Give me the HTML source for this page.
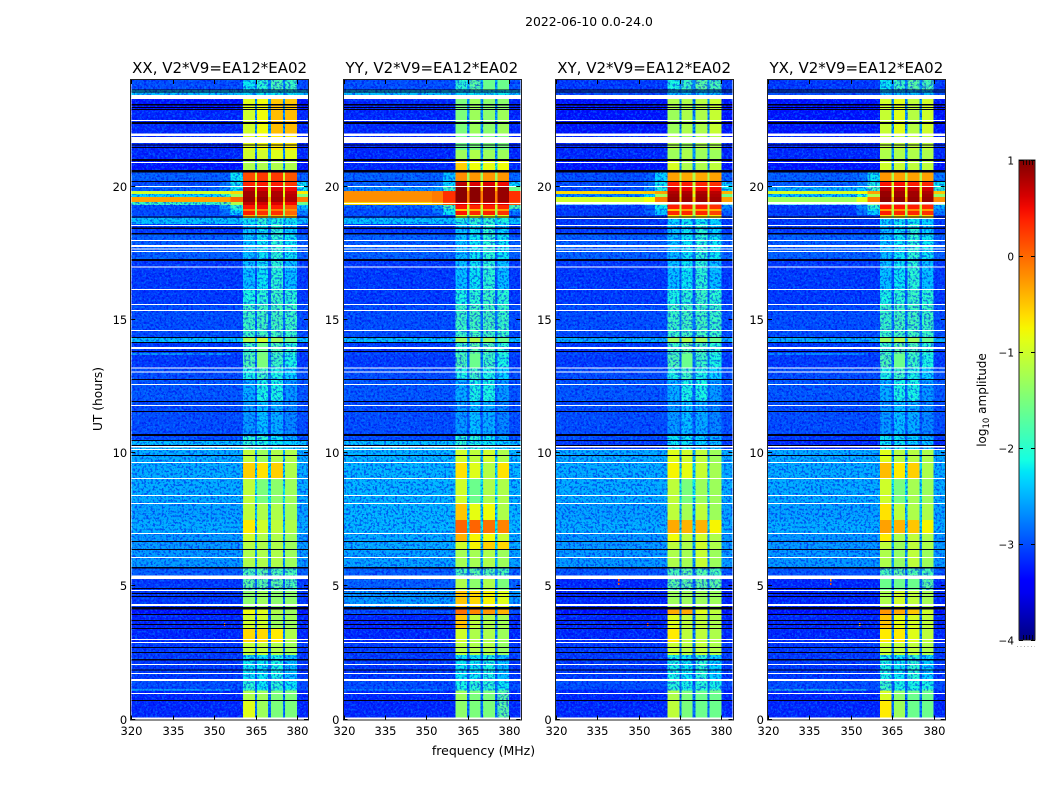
<!DOCTYPE html>
<html lang="en">
<head>
<meta charset="utf-8">
<title>2022-06-10 0.0-24.0</title>
<style>
html,body{margin:0;padding:0;background:#fff;}
svg{display:block;}
text{font-family:"DejaVu Sans","Liberation Sans",sans-serif;fill:#000;}
</style>
</head>
<body>
<svg id="figure" xmlns="http://www.w3.org/2000/svg" width="1050" height="800" viewBox="0 0 1050 800">
  <defs>
    <linearGradient id="jet-gradient" x1="0" y1="1" x2="0" y2="0"></linearGradient>
    <filter id="speckle-light" x="0" y="0" width="100%" height="100%" color-interpolation-filters="sRGB">
      <feTurbulence type="fractalNoise" baseFrequency="0.45" numOctaves="2" seed="7"/>
      <feColorMatrix type="matrix" values="0 0 0 0 0  0 0 0 0 0.66  0 0 0 0 1  6 0 0 0 -3.0"/>
    </filter>
    <filter id="speckle-dark" x="0" y="0" width="100%" height="100%" color-interpolation-filters="sRGB">
      <feTurbulence type="fractalNoise" baseFrequency="0.45" numOctaves="2" seed="23"/>
      <feColorMatrix type="matrix" values="0 0 0 0 0  0 0 0 0 0  0 0 0 0 0.9  6 0 0 0 -2.9"/>
    </filter>
  </defs>
  <text x="589" y="26" font-size="12.4" text-anchor="middle">2022-06-10 0.0-24.0</text>
  <text x="483.5" y="755" font-size="12.5" text-anchor="middle">frequency (MHz)</text>
  <text transform="translate(102,399) rotate(-90)" font-size="12.2" text-anchor="middle">UT (hours)</text>
  <text transform="translate(986,400) rotate(-90)" font-size="12" text-anchor="middle">log<tspan font-size="8.5" dy="3">10</tspan><tspan dy="-3"> amplitude</tspan></text>
  <g id="panels"></g>
  <g id="colorbar"></g>
</svg>
<script>
// ---------- categories / axes ----------
const panelTitles = ["XX, V2*V9=EA12*EA02", "YY, V2*V9=EA12*EA02", "XY, V2*V9=EA12*EA02", "YX, V2*V9=EA12*EA02"];
const freqTicks = [320, 335, 350, 365, 380];
const utTicks = [0, 5, 10, 15, 20];
const colorbarTicks = [-4, -3, -2, -1, 0, 1];
// frequency channel groups (MHz): bg, shoulder1, shoulder2, band1, gap, band2, gap, band3, gap, band4, tail
const channelEdges = [320, 352, 356, 360.5, 364.8, 365.6, 369.6, 370.6, 374.9, 375.7, 380, 384];
// time blocks (UT hours), top to bottom
const rowEdges = [24,23.62,23.43,22.91,21.97,21.37,21.0,20.54,20.21,19.98,19.83,19.72,19.61,19.42,19.31,19.16,19.08,18.93,18.82,18.59,18.22,17.24,16.12,15.55,14.35,14.17,13.74,13.70,13.19,12.74,11.91,10.68,10.49,10.15,9.66,9.06,8.12,7.49,7.0,6.70,6.40,5.72,5.38,4.86,4.22,3.96,3.43,2.91,2.42,1.48,1.12,1.08,0.73,0];
// flagged (no-data) time ranges, hours
const whiteFlags = [[23.43,23.28],[22.50,22.46],[22.0,21.89],[21.86,21.63],[20.92,20.88],[20.02,19.98],[18.56,18.52],[17.99,17.95],[17.81,17.73],[17.67,17.64],[17.58,17.54],[17.01,16.98],[16.15,16.12],[15.59,15.55],[15.37,15.33],[14.62,14.58],[13.98,13.90],[13.21,13.17],[13.06,13.02],[12.59,12.55],[11.80,11.76],[10.26,10.21],[10.15,10.11],[9.66,9.62],[9.06,9.02],[8.42,8.39],[8.12,8.09],[7.00,6.96],[6.10,6.06],[5.40,5.27],[4.86,4.82],[4.33,4.26],[3.02,2.98],[2.91,2.87],[2.08,2.05],[1.74,1.71],[1.52,1.44],[1.0,0.96],[0.08,0]];
const yyWhiteFlags = [[19.38,19.34]];
const crossWhiteFlags = [[19.43,19.33],[18.82,18.78]];
const panelWhiteFlags = [[], yyWhiteFlags, crossWhiteFlags, crossWhiteFlags];
const blackFlags = [[23.64,23.60],[23.56,23.53],[23.1,23.04],[22.99,22.96],[22.92,22.89],[22.42,22.34],[21.58,21.54],[21.48,21.44],[21.03,20.96],[20.62,20.53],[20.21,20.17],[18.87,18.84],[18.46,18.41],[18.26,18.2],[17.28,17.20],[14.35,14.32],[14.17,14.13],[13.83,13.79],[12.78,12.74],[11.95,11.91],[11.58,11.54],[10.71,10.64],[10.49,10.45],[10.30,10.26],[9.93,9.89],[6.70,6.66],[6.40,6.36],[5.72,5.67],[4.93,4.90],[4.75,4.71],[4.63,4.60],[4.22,4.13],[3.96,3.92],[3.73,3.70],[3.58,3.55],[3.43,3.40],[2.72,2.68],[2.53,2.50],[2.27,2.21],[1.88,1.84],[0.73,0.69]];
// isolated interference spikes: panel index, frequency MHz, start hour, end hour, log10 amplitude
const rfiSpikes = [[2,342.5,5.27,5.18,0.1],[2,342.5,5.13,5.05,0.1],[3,342.5,5.27,5.18,-0.2],[3,342.5,5.13,5.05,0.1],[0,353.5,3.62,3.5,-0.1],[2,353,3.62,3.5,0.1],[3,353,3.62,3.5,-0.4]];

// ---------- log10 amplitude per time block ----------
// each row: bg, band1, band2, band3, band4, gap, [shoulder1, shoulder2, tail]
const xxRows = [
[-3.0,-2.2,-2.0,-1.8,-1.9,-2.7],[-2.4,-2.3,-2.2,-2.2,-2.2,-2.4],[-3.3,-.9,-.8,-.5,-.5,-2.6],[-3.2,-1.0,-.8,-.45,-.45,-2.6],
[-3.2,-.9,-.8,-.7,-.7,-2.6],[-3.2,-1.0,-1.0,-.9,-.9,-2.6],[-3.3,-1.2,-1.2,-1.2,-1.2,-2.5],[-2.9,.15,.25,.25,.1,-1.0,-2.9,-2.2,-2.9],
[-3.0,.35,.4,.4,.25,-1.1,-2.8,-2.2,-2.2],[-2.9,.7,.6,.6,.5,-1.0,-2.7,-2.2,-2.2],[-1.0,.85,.8,.8,.7,-.8,-.9,-.6,-.7],[-2.3,.85,.8,.8,.75,-1.0,-2.0,-1.3,-1.5],
[-.3,.9,.9,.85,.8,-.4,-.3,0,-.1],[-1.9,.7,.65,.6,.5,-.9,-1.7,-1.2,-1.6],[-3.0,.45,.5,.4,.1,-1.2,-2.6,-2.0,-2.4],[-3,-.1,-.1,-.1,-.2,-1.3,-2.8,-2.2,-2.6],
[-3,.4,.3,.3,0,-1.3,-2.8,-2.3,-2.7],[-3,-.4,-.4,-.4,-.4,-1.6],[-2.4,-2.2,-2.0,-2.1,-2.2,-2.4],[-3.1,-2.4,-2.2,-2.0,-2.3,-2.9],
[-2.9,-2.4,-2.2,-2.0,-2.2,-2.8],[-3.1,-2.4,-2.2,-2.0,-2.4,-3],[-3.1,-2.1,-2.0,-1.9,-2.0,-2.9],[-3.0,-1.9,-1.85,-1.85,-1.9,-2.8],
[-2.4,-1.2,-1.0,-1.3,-1.6,-2.4],[-3.1,-1.9,-1.6,-1.8,-2.0,-2.8],[-2.2,-1.8,-1.5,-1.9,-2.0,-2.7,-2.2,-3,-3],[-3.1,-1.8,-1.5,-1.9,-2.1,-2.8],
[-3,-2.1,-1.9,-2.1,-2.3,-2.8],[-2.95,-2.5,-2.1,-2.1,-2.6,-2.9],[-3,-2.6,-2.4,-2.5,-2.7,-2.95],[-3,-2.0,-2.0,-2.2,-2.5,-2.9],
[-2.4,-2.0,-2.1,-2.2,-2.3,-2.4],[-2.5,-1.1,-1.3,-1.2,-1.2,-2.5],[-2.5,-.55,-.65,-.55,-1.2,-2.3],[-2.5,-1.1,-1.5,-1.4,-1.3,-2.2],
[-2.55,-1.1,-1.2,-1.2,-1.3,-2.4],[-2.5,-.7,-1.0,-1.1,-1.2,-2.4],[-2.6,-1.0,-1.2,-1.2,-1.3,-2.5],[-2.6,-1.15,-1.2,-1.2,-1.3,-2.5],
[-2.6,-1.2,-1.2,-1.2,-1.3,-2.6],[-2.9,-1.8,-1.7,-1.8,-1.8,-2.8],[-3.1,-1.7,-1.7,-1.7,-1.8,-2.9],[-3.1,-1.4,-1.3,-1.4,-1.4,-2.9],
[-3.3,-.8,-.9,-1.2,-1.3,-2.8],[-3.2,-1.0,-1.0,-1.3,-1.3,-2.8],[-3.2,-.6,-.6,-.7,-1.2,-2.7],[-3.1,-1.1,-1.1,-1.2,-1.3,-2.8],
[-3.1,-2.2,-2.2,-2.1,-2.4,-2.9],[-3.0,-2.0,-2.2,-2.0,-2.2,-2.9],[-2.2,-1.9,-2.1,-2.0,-1.9,-2.8,-2.2,-3,-3],[-3.2,-1.2,-1.3,-1.5,-1.5,-2.8],
[-3.2,-.9,-1.3,-1.5,-1.5,-2.8]];
const yyRows = [
[-3,-2.0,-1.7,-1.6,-1.6,-2.5],[-2.4,-2.3,-2.2,-2.2,-2.2,-2.4],[-3.2,-1.5,-1.3,-1.4,-1.4,-2.6],[-3.2,-1.5,-1.3,-1.4,-1.3,-2.6],
[-3.2,-1.6,-1.5,-1.5,-1.5,-2.6],[-3.2,-1.3,-1.2,-1.3,-1.3,-2.6],[-3.2,-.55,-.8,-.85,-.8,-2.0],[-2.9,-.2,-.25,-.25,-.25,-1.3,-2.9,-2.4,-2.9],
[-2.9,.75,.6,.6,.5,-.9,-2.8,-2.3,-2.3],[-2.7,.95,.95,.9,.9,-.5,-2.6,-1.9,-1.6],[-.2,.95,.95,.9,.9,-.1,-.1,.3,.3],[-.2,.95,.95,.9,.9,-.1,-.1,.3,.3],
[-.2,.95,.95,.9,.9,-.1,-.1,.3,.3],[-.6,.6,.6,.6,.6,-.3,-.4,.1,.1],[-2.9,.45,.35,.4,.35,-1.0,-2.6,-1.8,-1.8],[-3,-.5,-.4,-.3,-.3,-1.2,-2.8,-2.2,-2.5],
[-3,.45,.35,.4,.3,-1.2,-2.8,-2.2,-2.8],[-3,-.9,-.9,-.9,-.9,-1.8],[-2.4,-2.1,-2.0,-2.0,-2.1,-2.4],[-3.1,-2.4,-2.2,-2.0,-2.3,-2.9],
[-2.9,-2.4,-2.2,-2.0,-2.2,-2.8],[-3.1,-2.4,-2.2,-2.0,-2.4,-3],[-3.1,-2.1,-2.0,-1.9,-2.0,-2.9],[-3.0,-1.9,-1.85,-1.85,-1.9,-2.8],
[-2.4,-1.3,-1.2,-1.3,-1.6,-2.4],[-3.1,-1.9,-1.7,-1.8,-2.0,-2.8],[-2.9,-1.8,-1.6,-1.9,-2.0,-2.7],[-3.1,-1.8,-1.6,-1.9,-2.1,-2.8],
[-3,-2.1,-1.9,-2.1,-2.3,-2.8],[-2.95,-2.5,-2.1,-2.1,-2.6,-2.9],[-3,-2.6,-2.4,-2.5,-2.7,-2.95],[-3,-2.0,-2.0,-2.2,-2.5,-2.9],
[-2.4,-2.0,-2.1,-2.2,-2.3,-2.4],[-2.45,-1.0,-1.1,-1.0,-1.2,-2.4],[-2.45,-.65,-.9,-1.15,-.65,-2.3],[-2.45,-1.0,-1.6,-1.2,-1.2,-2.2],
[-2.45,-.5,-.85,-.8,-1.2,-2.3],[-2.45,.02,.02,-.05,-.15,-2.2],[-2.5,-.4,-.75,-.8,-1.05,-2.3],[-2.5,-1.0,-.75,-.55,-.6,-2.3],
[-2.55,-1.25,-1.25,-1.2,-1.3,-2.5],[-2.9,-1.8,-1.7,-1.75,-1.8,-2.8],[-2.9,-1.2,-1.4,-1.2,-1.5,-2.7],[-2.6,-.5,-.6,-.75,-.9,-2.5],
[-3.0,-.05,-.15,-.25,-.4,-2.6],[-3.2,-.5,-1.1,-1.2,-1.25,-2.7],[-3.2,-1.0,-1.2,-1.2,-1.3,-2.7],[-3.1,-1.15,-1.2,-1.2,-1.35,-2.8],
[-3.1,-2.2,-2.2,-2.1,-2.4,-2.9],[-3.0,-2.1,-2.0,-2.0,-2.2,-2.9],[-2.5,-2.0,-2.0,-2.0,-1.9,-2.8,-2.5,-3,-3],[-3.2,-1.3,-1.5,-1.5,-1.7,-2.8],
[-3.2,-1.4,-1.5,-1.5,-1.7,-2.8]];
const xyRows = [
[-3.1,-2.1,-1.9,-1.7,-1.8,-2.7],[-3.0,-2.4,-2.4,-2.4,-2.4,-2.8],[-3.3,-1.2,-1.2,-1.15,-1.05,-2.6],[-3.3,-1.3,-1.2,-1.2,-1.05,-2.6],
[-3.2,-1.2,-1.3,-1.2,-1.2,-2.6],[-3.2,-1.3,-1.2,-1.3,-1.3,-2.6],[-3.3,-.95,-1.2,-1.2,-1.1,-2.6],[-3,-.3,-.35,-.35,-.3,-1.2,-2.9,-2.3,-2.9],
[-3,.4,.4,.35,.3,-1.1,-2.8,-2.2,-2.3],[-3,.6,.55,.5,.5,-1,-2.7,-2.1,-2.2],[-.6,.8,.8,.8,.75,-.7,-.5,-.3,-.4],[-2.7,.85,.85,.85,.8,-1,-2.3,-1.3,-1.6],
[-1,.9,.9,.9,.85,-.5,-.8,-.1,-.3],[-2.4,.45,.4,.4,.4,-1,-2.1,-1.4,-1.7],[-3.1,.4,.4,.4,.3,-1.1,-2.9,-2.2,-2.7],[-3.1,-.5,-.3,-.3,-.4,-1.2,-2.9,-2.3,-2.8],
[-3.1,.35,.35,.35,.2,-1.2,-2.9,-2.4,-2.9],[-3.1,-.7,-.7,-.7,-.7,-1.5],[-3.1,-2.3,-2.2,-2.2,-2.3,-2.9],[-3.1,-2.4,-2.2,-2.0,-2.3,-2.9],
[-2.9,-2.4,-2.2,-2.0,-2.2,-2.8],[-3.1,-2.4,-2.2,-2.0,-2.4,-3],[-3.1,-2.1,-2.0,-1.9,-2.0,-2.9],[-3.0,-1.9,-1.85,-1.85,-1.9,-2.8],
[-2.5,-1.3,-1.2,-1.3,-1.6,-2.5],[-3.1,-1.9,-1.7,-1.8,-2.0,-2.8],[-2.9,-1.8,-1.6,-1.9,-2.0,-2.7],[-3.1,-1.8,-1.6,-1.9,-2.1,-2.8],
[-3,-2.1,-1.9,-2.1,-2.3,-2.8],[-2.95,-2.5,-2.1,-2.1,-2.6,-2.9],[-3,-2.6,-2.4,-2.5,-2.7,-2.95],[-3,-2.2,-2.2,-2.3,-2.5,-2.9],
[-3.1,-2.2,-2.2,-2.3,-2.4,-2.9],[-2.5,-.9,-1.0,-1.1,-1.3,-2.5],[-2.5,-.75,-.85,-1.05,-1.25,-2.3],[-2.5,-1.1,-1.5,-1.3,-1.3,-2.2],
[-2.55,-1.1,-1.25,-1.1,-1.3,-2.4],[-2.5,-.35,-.4,-.4,-.75,-2.3],[-2.6,-.8,-1.1,-1.0,-1.2,-2.5],[-2.6,-1.1,-1.2,-1.0,-1.2,-2.5],
[-2.6,-1.2,-1.25,-1.05,-1.3,-2.6],[-2.95,-1.8,-1.7,-1.75,-1.8,-2.8],[-3.2,-1.7,-1.7,-1.65,-1.7,-2.9],[-3.2,-1.3,-1.3,-1.3,-1.3,-2.9],
[-3.3,-.35,-.35,-.9,-1.1,-2.8],[-3.2,-.9,-1.1,-1.1,-1.2,-2.8],[-3.2,-.7,-1.1,-1.1,-1.2,-2.7],[-3.1,-1.05,-1.15,-1.1,-1.2,-2.8],
[-3.1,-2.1,-2.2,-2.0,-2.3,-2.9],[-3.0,-2.0,-2.1,-2.0,-2.1,-2.9],[-3.2,-1.9,-2.0,-2.0,-1.7,-2.8],[-3.2,-1.2,-1.5,-1.6,-1.6,-2.8],
[-3.2,-1.1,-1.5,-1.6,-1.6,-2.8]];
const yxRows = [
[-3.1,-2.2,-1.9,-1.7,-1.8,-2.7],[-3.0,-2.4,-2.4,-2.4,-2.4,-2.8],[-3.3,-1.0,-.9,-1.1,-1.0,-2.6],[-3.3,-1.05,-.9,-1.15,-1.0,-2.6],
[-3.2,-1.1,-1.1,-1.1,-1.1,-2.6],[-3.2,-1.2,-1.2,-1.2,-1.2,-2.6],[-3.3,-1.0,-1.05,-1.1,-1.1,-2.6],[-2.9,-.25,-.3,-.3,-.3,-1.2,-2.8,-2.2,-2.8],
[-2.9,.45,.45,.4,.35,-1.0,-2.7,-2.1,-2.2],[-2.5,.75,.7,.7,.65,-.9,-2.3,-1.9,-2.0],[-.95,.9,.85,.85,.8,-.7,-.8,-.3,-.5],[-2.4,.9,.85,.85,.85,-.9,-2.1,-1.2,-1.4],
[-1.3,.95,.95,.9,.9,-.4,-.9,-.1,-.2],[-2.2,.45,.4,.4,.45,-1,-1.9,-1.3,-1.6],[-3.1,.45,.45,.4,.35,-1.1,-2.7,-2.0,-2.5],[-3.1,-.3,-.2,-.2,-.3,-1.2,-2.8,-2.2,-2.7],
[-3.1,.4,.35,.35,.3,-1.2,-2.8,-2.3,-2.8],[-3.1,-.6,-.6,-.6,-.6,-1.5],[-3.1,-2.3,-2.2,-2.2,-2.3,-2.9],[-3.1,-2.4,-2.2,-2.0,-2.3,-2.9],
[-2.9,-2.4,-2.2,-2.0,-2.2,-2.8],[-3.1,-2.4,-2.2,-2.0,-2.4,-3],[-3.1,-2.1,-2.0,-1.9,-2.0,-2.9],[-3.0,-1.9,-1.85,-1.85,-1.9,-2.8],
[-2.5,-1.3,-1.2,-1.3,-1.6,-2.5],[-3.1,-1.9,-1.7,-1.8,-2.0,-2.8],[-2.3,-1.8,-1.6,-1.9,-2.0,-2.7,-2.3,-3,-3],[-3.1,-1.8,-1.6,-1.9,-2.1,-2.8],
[-3,-2.1,-1.9,-2.1,-2.3,-2.8],[-2.95,-2.5,-2.1,-2.1,-2.6,-2.9],[-3,-2.6,-2.4,-2.5,-2.7,-2.95],[-3.1,-2.2,-2.2,-2.3,-2.5,-2.9],
[-3.2,-2.2,-2.2,-2.3,-2.4,-2.9],[-2.5,-.9,-1.15,-1.15,-1.2,-2.5],[-2.5,-.45,-.7,-.55,-1.2,-2.3],[-2.5,-1.0,-1.5,-1.25,-1.3,-2.2],
[-2.55,-.65,-1.1,-1.2,-1.2,-2.4],[-2.5,-.3,-.4,-.5,-.75,-2.3],[-2.6,-.7,-1.2,-1.1,-1.2,-2.5],[-2.6,-1.1,-1.3,-1.1,-1.2,-2.5],
[-2.6,-1.2,-1.35,-1.1,-1.3,-2.6],[-2.95,-1.8,-1.7,-1.75,-1.8,-2.8],[-3.2,-1.6,-1.6,-1.6,-1.7,-2.9],[-3.2,-1.2,-1.0,-1.1,-1.25,-2.9],
[-3.3,-.25,-.35,-.5,-1.0,-2.8],[-3.2,-.5,-.85,-.95,-1.1,-2.8],[-3.2,-.7,-.7,-.9,-1.1,-2.7],[-3.1,-1.05,-1.1,-1.1,-1.2,-2.8],
[-3.1,-2.1,-2.2,-2.0,-2.3,-2.9],[-3.0,-1.9,-2.1,-2.1,-2.1,-2.9],[-2.0,-1.9,-2.1,-2.1,-1.8,-2.8,-2.0,-3,-3],[-3.2,-.95,-1.4,-1.6,-1.6,-2.8],
[-3.2,-.7,-1.3,-1.6,-1.6,-2.8]];
const panelRows = [xxRows, yyRows, xyRows, yxRows];

// ---------- scales ----------
const SVGNS = "http://www.w3.org/2000/svg";
const plotTop = 80, plotBottom = 719.5, plotWidth = 176.75;
const panelLeft = i => 131.25 + i * 212.25;
const freqToX = (f, left) => left + (f - 320) / 64 * plotWidth;
const hourToY = h => plotBottom - (h / 24) * (plotBottom - plotTop);
const cbarTop = 160, cbarBottom = 640, cbarLeft = 1019, cbarRight = 1035;
const ampToCbarY = v => cbarBottom - (v + 4) / 5 * (cbarBottom - cbarTop);

function ramp(t, pts) {
  for (let i = 1; i < pts.length; i++) {
    if (t <= pts[i][0]) {
      const a = pts[i - 1], b = pts[i];
      return a[1] + (b[1] - a[1]) * (t - a[0]) / (b[0] - a[0]);
    }
  }
  return pts[pts.length - 1][1];
}
function jet(v) {
  const t = Math.min(1, Math.max(0, (v + 4) / 5));
  const r = ramp(t, [[0,0],[.35,0],[.66,1],[.89,1],[1,.5]]);
  const g = ramp(t, [[0,0],[.125,0],[.375,1],[.64,1],[.91,0],[1,0]]);
  const b = ramp(t, [[0,.5],[.11,1],[.34,1],[.65,0],[1,0]]);
  return "rgb(" + Math.round(r * 255) + "," + Math.round(g * 255) + "," + Math.round(b * 255) + ")";
}
function mk(tag, attrs, parent) {
  const el = document.createElementNS(SVGNS, tag);
  for (const k in attrs) el.setAttribute(k, attrs[k]);
  parent.appendChild(el);
  return el;
}

// ---------- panels ----------
const panelsGroup = document.getElementById("panels");
const defs = document.querySelector("defs");
panelTitles.forEach(function (title, p) {
  const left = panelLeft(p), right = left + plotWidth, height = plotBottom - plotTop;
  const rows = panelRows[p];
  const g = mk("g", {}, panelsGroup);
  
  

  const t = mk("text", { x: left + plotWidth / 2, y: 73, "font-size": 15, "text-anchor": "middle" }, g);
  
  
  t.textContent = title;

  const clip = mk("clipPath", { id: "quiet-clip-" + p }, defs);
  
  

  const cells = mk("g", { "shape-rendering": "crispEdges" }, g);
  
  
  rows.forEach(function (row, r) {
    const bg = row[0], gap = row[5];
    const sh1 = row.length > 6 ? row[6] : bg, sh2 = row.length > 7 ? row[7] : bg, tail = row.length > 8 ? row[8] : bg;
    const colValues = [bg, sh1, sh2, row[1], gap, row[2], gap, row[3], gap, row[4], tail];
    const y0 = hourToY(rowEdges[r]), y1 = hourToY(rowEdges[r + 1]);
    colValues.forEach(function (v, c) {
      const x0 = freqToX(channelEdges[c], left), x1 = freqToX(channelEdges[c + 1], left);
      const cell = mk("rect", { x: x0, y: y0, width: x1 - x0, height: y1 - y0, fill: jet(v) }, cells);
      
      
      if (v < -1.6) {
        const cr = mk("rect", { x: x0, y: y0, width: x1 - x0, height: y1 - y0 }, clip);
        
        
      }
    });
  });

  const noise = mk("g", { "clip-path": "url(#quiet-clip-" + p + ")" }, g);
  
  
  const n1 = mk("rect", { x: left, y: plotTop, width: plotWidth, height: height, filter: "url(#speckle-dark)", opacity: .55 }, noise);
  
  
  const n2 = mk("rect", { x: left, y: plotTop, width: plotWidth, height: height, filter: "url(#speckle-light)", opacity: .38 }, noise);
  
  

  const spikes = mk("g", { "shape-rendering": "crispEdges" }, g);
  
  
  rfiSpikes.filter(function (s) { return s[0] === p; }).forEach(function (s) {
    const y = hourToY(s[2]);
    const sp = mk("rect", { x: freqToX(s[1], left), y: y, width: 1.4, height: Math.max(1, hourToY(s[3]) - y), fill: jet(s[4]) }, spikes);
    
    
  });

  const flags = mk("g", { "shape-rendering": "crispEdges" }, g);
  
  
  blackFlags.forEach(function (f) {
    const y = hourToY(f[0]);
    const b = mk("rect", { x: left, y: y, width: plotWidth, height: Math.max(1, hourToY(f[1]) - y), fill: "#000014" }, flags);
    
    
  });
  whiteFlags.concat(panelWhiteFlags[p]).forEach(function (f) {
    const y = hourToY(f[0]);
    const w = mk("rect", { x: left, y: y, width: plotWidth, height: Math.max(1, hourToY(f[1]) - y), fill: "#fff" }, flags);
    
    
  });

  const frame = mk("rect", { x: Math.round(left) - .5, y: plotTop - .5, width: Math.round(plotWidth) + 1, height: height + 1, fill: "none", stroke: "#222", "stroke-width": 1 }, g);
  
  

  freqTicks.forEach(function (f) {
    const x = Math.round(freqToX(f, left)) + .5;
    const tb = mk("line", { x1: x, x2: x, y1: plotBottom, y2: plotBottom - 4, stroke: "#000", "stroke-width": 1 }, g);
    
    
    const tt = mk("line", { x1: x, x2: x, y1: plotTop, y2: plotTop + 4, stroke: "#000", "stroke-width": 1 }, g);
    
    
    const lbl = mk("text", { x: x, y: 735, "font-size": 11.5, "text-anchor": "middle" }, g);
    
    
    lbl.textContent = f;
  });
  utTicks.forEach(function (h) {
    const y = Math.round(hourToY(h)) - .5;
    const tl = mk("line", { x1: left, x2: left + 4, y1: y, y2: y, stroke: "#000", "stroke-width": 1 }, g);
    
    
    const tr = mk("line", { x1: right, x2: right - 4, y1: y, y2: y, stroke: "#000", "stroke-width": 1 }, g);
    
    
    const lbl = mk("text", { x: left - 4, y: y + 4.5, "font-size": 11.5, "text-anchor": "end" }, g);
    
    
    lbl.textContent = h;
  });
});

// ---------- colorbar ----------
const cbar = document.getElementById("colorbar");
const grad = document.getElementById("jet-gradient");
for (let i = 0; i <= 40; i++) {
  const stop = mk("stop", { offset: i / 40, "stop-color": jet(-4 + 5 * i / 40) }, grad);
  
  
}
const cbarRect = mk("rect", { x: cbarLeft, y: cbarTop, width: cbarRight - cbarLeft, height: cbarBottom - cbarTop, fill: "url(#jet-gradient)", stroke: "#222", "stroke-width": 1 }, cbar);


colorbarTicks.forEach(function (v) {
  const y = Math.round(ampToCbarY(v)) + .5;
  const t1 = mk("line", { x1: cbarLeft, x2: cbarLeft + 4, y1: y, y2: y, stroke: "#000", "stroke-width": 1 }, cbar);
  
  
  const t2 = mk("line", { x1: cbarRight, x2: cbarRight - 4, y1: y, y2: y, stroke: "#000", "stroke-width": 1 }, cbar);
  
  
  const lbl = mk("text", { x: 1014, y: y + 4, "font-size": 10.5, "text-anchor": "end" }, cbar);
  
  
  lbl.textContent = v < 0 ? "\u2212" + Math.abs(v) : String(v);
});
[1023, 1026, 1029, 1032].forEach(function (x) {
  const a = mk("line", { x1: x + .5, x2: x + .5, y1: cbarTop, y2: cbarTop + 5, stroke: "#000", "stroke-width": .8 }, cbar);
  
  
  const b = mk("line", { x1: x + .5, x2: x + .5, y1: cbarBottom, y2: cbarBottom - 5, stroke: "#000", "stroke-width": .8 }, cbar);
  
  
});
const dots = mk("line", { x1: 1017, x2: 1035, y1: 646.5, y2: 646.5, stroke: "#aaa", "stroke-width": 1, "stroke-dasharray": "1 2.5" }, cbar);


</script>
</body>
</html>
